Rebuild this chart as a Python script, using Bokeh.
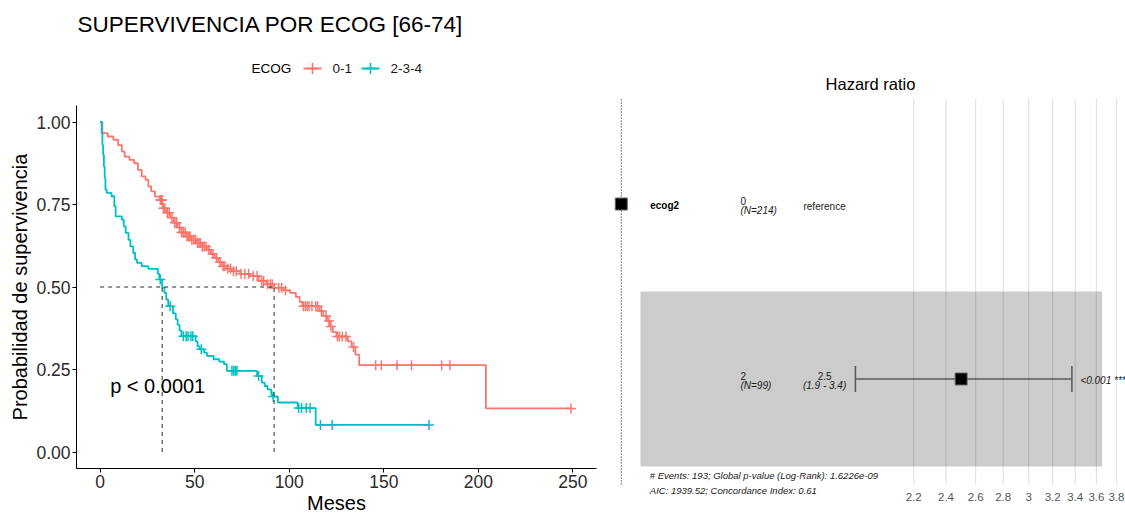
import numpy as np
from bokeh.plotting import figure
from bokeh.layouts import row, column
from bokeh.models import Range1d, FixedTicker, Label, NumeralTickFormatter
from bokeh.core.properties import value
from bokeh.embed import file_html
from bokeh.resources import INLINE

FONT = "Liberation Sans"

# ---------------- data ----------------
TITLE = "SUPERVIVENCIA POR ECOG [66-74]"
LEGEND_TITLE = "ECOG"
GROUPS = ["0-1", "2-3-4"]
COLORS = ["#F8766D", "#00BFC4"]

# Kaplan-Meier estimate, ECOG 0-1 (time in months, survival probability)
km01_time = [0, 1.2, 4, 7, 9.5, 11.5, 13, 15.5, 18, 20, 22, 24, 25.5, 27, 29, 31.5,
             33, 35, 37, 39, 41, 43, 45.5, 48, 51, 54, 56.5, 58.5, 60.5, 62.5, 64.5,
             67, 70, 74, 79, 84, 88, 92, 97, 100.5, 103.5, 105.5, 107, 116, 118, 120,
             121.5, 123, 125, 131, 133, 135, 137, 204, 249]
km01_surv = [1.0, 0.966, 0.956, 0.946, 0.93, 0.91, 0.895, 0.885, 0.875, 0.855, 0.835,
             0.825, 0.805, 0.79, 0.774, 0.764, 0.739, 0.725, 0.71, 0.695, 0.68, 0.665,
             0.653, 0.643, 0.633, 0.623, 0.613, 0.6, 0.588, 0.575, 0.563, 0.555, 0.548,
             0.54, 0.533, 0.518, 0.508, 0.498, 0.49, 0.482, 0.47, 0.455, 0.442, 0.427,
             0.412, 0.397, 0.38, 0.363, 0.35, 0.335, 0.318, 0.295, 0.263, 0.132, 0.132]
km01_censor = [31.8, 32.3, 32.8, 33.5, 34.2, 35.5, 36.5, 38.0, 39.5, 40.5, 42.0, 43.0,
               44.0, 45.0, 46.0, 46.8, 47.5, 48.5, 49.5, 50.5, 51.5, 52.3, 53.0, 54.0,
               55.0, 56.0, 57.5, 59.5, 61.5, 63.5, 65.0, 66.0, 67.5, 69.0, 70.5, 72.0,
               74.5, 76.5, 78.5, 81.0, 83.0, 85.5, 86.5, 88.5, 90.0, 91.0, 94.5, 96.0,
               98.0, 107.5, 108.5, 109.5, 110.5, 112.0, 114.0, 115.0, 117.0, 119.5,
               121.0, 122.0, 125.5, 126.5, 128.0, 130.0, 134.0, 145.7, 148.7, 157.0,
               164.7, 180.6, 185.0, 249.0]

# Kaplan-Meier estimate, ECOG 2-3-4
km234_time = [0, 0.8, 1.2, 1.6, 2.0, 2.4, 2.8, 3.5, 6.0, 7.5, 8.2, 11.5, 12.5, 13.5,
              15.0, 16.0, 17.5, 18.5, 19.5, 22.0, 25.5, 30.5, 31.3, 32.8, 34.0, 35.0,
              36.0, 38.5, 40.0, 41.0, 42.0, 43.0, 50.5, 51.5, 52.5, 55.0, 56.5, 60.0,
              63.0, 65.5, 67.0, 83.0, 85.5, 87.0, 88.5, 90.5, 91.0, 94.0, 104.5, 114.0,
              173.9]
km234_surv = [1.0, 0.966, 0.93, 0.9, 0.865, 0.83, 0.795, 0.785, 0.775, 0.745, 0.714,
              0.704, 0.684, 0.664, 0.643, 0.623, 0.603, 0.583, 0.573, 0.563, 0.555,
              0.54, 0.523, 0.498, 0.482, 0.462, 0.442, 0.42, 0.402, 0.385, 0.368, 0.351,
              0.335, 0.321, 0.311, 0.301, 0.291, 0.281, 0.274, 0.266, 0.246, 0.23, 0.21,
              0.2, 0.19, 0.175, 0.168, 0.15, 0.133, 0.082, 0.082]
km234_censor = [31.8, 37.0, 44.0, 45.5, 46.5, 48.0, 49.0, 53.5, 69.7, 70.6, 71.5, 72.3,
                83.8, 91.5, 105.0, 106.5, 109.0, 111.0, 116.5, 122.7, 173.9]

PVAL_TEXT = "p < 0.0001"
KM_X_TICKS = [0, 50, 100, 150, 200, 250]
KM_Y_TICKS = [0.0, 0.25, 0.5, 0.75, 1.0]

# Cox model, ecog2
COX_VAR = "ecog2"
COX_LEVELS = ["0", "2"]
COX_N = [214, 99]
COX_HR = [1.0, 2.5]
COX_LO = [None, 1.88]
COX_HI = [None, 3.37]
COX_P = [None, "<0.001 ***"]
HR_TICKS = [2.2, 2.4, 2.6, 2.8, 3.0, 3.2, 3.4, 3.6, 3.8]
HR_TICK_LABELS = ["2.2", "2.4", "2.6", "2.8", "3", "3.2", "3.4", "3.6", "3.8"]
COX_NOTES = ["# Events: 193; Global p-value (Log-Rank): 1.6226e-09",
             "AIC: 1939.52; Concordance Index: 0.61"]

# ---------------- header: title and legend (pixel coordinates) ----------------
HDR_H = 86
hdr = figure(width=600, height=HDR_H, x_range=Range1d(76, 596),
             y_range=Range1d(HDR_H, 0), x_axis_type=None, y_axis_type=None,
             output_backend="svg", toolbar_location=None, min_border_left=76,
             min_border_right=4, min_border_top=0, min_border_bottom=0)
hdr.outline_line_color = None
hdr.text(x=[77], y=[24], text=[TITLE], text_font=value(FONT), text_font_size="22.5px",
         text_baseline="middle", text_color="black")
LEG_Y = 68
hdr.text(x=[251], y=[LEG_Y], text=[LEGEND_TITLE], text_font=value(FONT),
         text_font_size="13.5px", text_baseline="middle", text_color="black")
for (gx, lab, col) in zip([312, 370], GROUPS, COLORS):
    hdr.segment(x0=[gx - 9], y0=[LEG_Y], x1=[gx + 9], y1=[LEG_Y], line_color=col,
                line_width=1.8)
    hdr.scatter(x=[gx], y=[LEG_Y], marker="cross", size=11, line_color=col,
                line_width=1.6)
    hdr.text(x=[gx + 20], y=[LEG_Y], text=[lab], text_font=value(FONT),
             text_font_size="13.5px", text_baseline="middle", text_color="#1a1a1a")

# ---------------- survival curves ----------------
km = figure(width=600, height=516 - HDR_H, x_range=Range1d(-12.5, 262.5),
            y_range=Range1d(-0.05, 1.05), output_backend="svg", toolbar_location=None,
            min_border_left=76, min_border_right=4, min_border_top=105 - HDR_H,
            min_border_bottom=47)
km.outline_line_color = None
km.grid.visible = False

medians = []
for t, s, cens, col in [(km01_time, km01_surv, km01_censor, COLORS[0]),
                        (km234_time, km234_surv, km234_censor, COLORS[1])]:
    t = np.asarray(t, float)
    s = np.asarray(s, float)
    km.step(t, s, mode="after", line_color=col, line_width=1.8)
    idx = np.searchsorted(t, np.asarray(cens), side="right") - 1
    km.scatter(cens, s[idx], marker="cross", size=10, line_color=col, line_width=1.5)
    medians.append(t[np.argmax(s <= 0.5)])

# median survival guides
km.line([0, max(medians)], [0.5, 0.5], line_color="black", line_dash="4 4",
        line_width=1, line_alpha=0.85)
for m in medians:
    km.line([m, m], [0, 0.5], line_color="black", line_dash="4 4", line_width=1,
            line_alpha=0.85)

km.text(x=[5.3], y=[0.2], text=[PVAL_TEXT], text_font=value(FONT),
        text_font_size="20px", text_baseline="middle", text_color="black")

km.xaxis.ticker = FixedTicker(ticks=KM_X_TICKS)
km.yaxis.ticker = FixedTicker(ticks=KM_Y_TICKS)
km.yaxis.formatter = NumeralTickFormatter(format="0.00")
km.xaxis.axis_label = "Meses"
km.yaxis.axis_label = "Probabilidad de supervivencia"
for ax in (km.xaxis[0], km.yaxis[0]):
    ax.axis_line_color = "black"
    ax.axis_line_width = 1
    ax.major_tick_line_color = "black"
    ax.major_tick_in = 0
    ax.major_tick_out = 4
    ax.minor_tick_line_color = None
    ax.major_label_text_font = FONT
    ax.major_label_text_font_size = "17.5px"
    ax.major_label_text_color = "#2b2b2b"
    ax.major_label_standoff = 2
    ax.axis_label_text_font = FONT
    ax.axis_label_text_font_size = "20px"
    ax.axis_label_text_font_style = "normal"
    ax.axis_label_text_color = "black"
    ax.axis_label_standoff = 2
km.xaxis.major_label_standoff = 2
km.xaxis.axis_label_standoff = 1

# ---------------- hazard ratio forest ----------------
# frame spans page rows 70..496; 175 px per table row
fp = figure(width=525, height=516, x_axis_type="log", x_range=Range1d(0.9455, 3.894),
            y_range=Range1d(0.3286, 2.763), y_axis_location=None,
            output_backend="svg", toolbar_location=None, min_border_left=0,
            min_border_right=0, min_border_top=70, min_border_bottom=20)
fp.outline_line_color = None
fp.grid.visible = False
fp.xaxis.ticker = FixedTicker(ticks=HR_TICKS)
fp.xaxis.major_label_overrides = {t: l for t, l in zip(HR_TICKS, HR_TICK_LABELS)}
fp.xaxis.axis_line_color = None
fp.xaxis.major_tick_line_color = None
fp.xaxis.minor_tick_line_color = None
fp.xaxis.major_tick_out = 0
fp.xaxis.major_tick_in = 0
fp.xaxis.major_label_standoff = -4
fp.xaxis.major_label_text_font = FONT
fp.xaxis.major_label_text_font_size = "11.5px"
fp.xaxis.major_label_text_color = "#555555"

GRID_TOP, GRID_BOTTOM = 2.603, 0.397
fp.segment(x0=HR_TICKS, y0=[GRID_BOTTOM] * len(HR_TICKS), x1=HR_TICKS,
           y1=[GRID_TOP] * len(HR_TICKS), line_color="#DEDEDE", line_width=1)
fp.segment(x0=[1], y0=[GRID_BOTTOM], x1=[1], y1=[GRID_TOP], line_color="black",
           line_dash="1 2", line_width=1)

rows = list(range(len(COX_HR), 0, -1))  # top row first

# shaded band behind the non-reference row
band_left, band_right = 1.053, 3.656
for r, lo in zip(rows, COX_LO):
    if lo is not None:
        fp.quad(left=[band_left], right=[band_right], bottom=[r - 0.5], top=[r + 0.5],
                fill_color="black", fill_alpha=0.2, line_color=None)

CAP = 0.074
for r, lo, hi in zip(rows, COX_LO, COX_HI):
    if lo is None:
        continue
    fp.segment(x0=[lo], y0=[r], x1=[hi], y1=[r], line_color="#222222", line_width=1.2)
    fp.segment(x0=[lo, hi], y0=[r - CAP, r - CAP], x1=[lo, hi], y1=[r + CAP, r + CAP],
               line_color="#555555", line_width=1.5)
fp.scatter(COX_HR, rows, marker="square", size=12, fill_color="black",
           line_color="#666666", line_width=1)


def lab(x, y, text, size="10px", style="normal", align="left", color="#1a1a1a"):
    fp.add_layout(Label(x=x, y=y, text=text, text_font=FONT, text_font_size=size,
                        text_font_style=style, text_align=align,
                        text_baseline="middle", text_color=color))


VAR_X, LEVEL_X, EST_X, P_X = 1.081, 1.379, 1.73, 3.448
UP, DN = 0.016, -0.038
lab(VAR_X, rows[0] - 0.01, COX_VAR, style="bold", color="black")
for r, lev, n, hr, lo, hi, p in zip(rows, COX_LEVELS, COX_N, COX_HR, COX_LO, COX_HI, COX_P):
    lab(LEVEL_X, r + UP, lev)
    lab(LEVEL_X, r + DN, f"(N={n})", style="italic")
    if lo is None:
        lab(EST_X, r - 0.012, "reference", align="center")
    else:
        lab(EST_X, r + UP, f"{hr:.1f}", align="center")
        lab(EST_X, r + DN, f"({lo:.1f} - {hi:.1f})", style="italic", align="center")
        lab(P_X, r - 0.009, p, style="italic")

lab(1.080, 0.4486, COX_NOTES[0], size="9.5px", style="italic")
lab(1.080, 0.3629, COX_NOTES[1], size="9.5px", style="italic")
lab(1.958, 2.687, "Hazard ratio", size="16.5px", align="center", color="black")

layout = row(column(hdr, km), fp)
open("out.html", "w").write(file_html(layout, INLINE))
